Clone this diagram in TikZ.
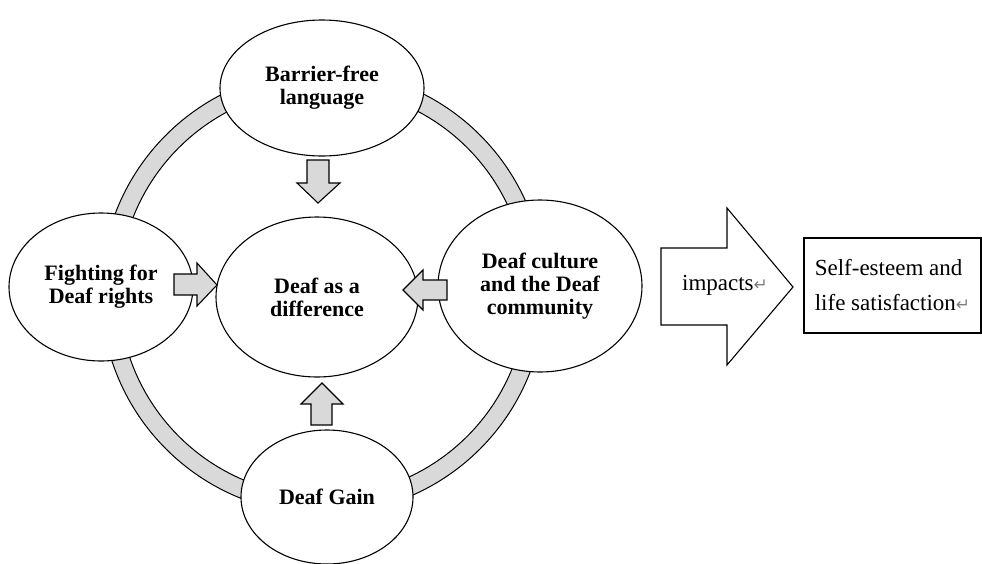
\documentclass[tikz,border=0pt]{standalone}
\usepackage{fontspec}
\setmainfont{Liberation Serif}
\newfontfamily\symfont{DejaVu Sans}
\usetikzlibrary{shapes.geometric}
\definecolor{ringgray}{HTML}{D9D9D9}
\newcommand{\parmark}{{\symfont\color{gray}\fontsize{17}{17}\selectfont ↵}}
\tikzset{
  topic/.style={draw, ellipse, fill=white, line width=1.1pt, inner sep=0pt,
    align=center, font=\bfseries\fontsize{22}{23}\selectfont},
  blockarrow/.style={draw, fill=ringgray, line width=1.1pt, line join=miter},
}
\begin{document}
\begin{tikzpicture}[x=1pt, y=-1pt]
\useasboundingbox (0,0) rectangle (982,563);
% ring
\fill[ringgray, even odd rule] (323,292) circle (222) (323,292) circle (204);
\draw[line width=1pt] (323,292) circle (222) (323,292) circle (204);

% topics
\node[topic, minimum width=204pt, minimum height=136pt] (barrier) at (322,88) {Barrier-free\\language};
\node[topic, minimum width=184pt, minimum height=148pt] (fight) at (101,287) {Fighting for\\Deaf rights};
\node[topic, minimum width=202pt, minimum height=160pt] (diff) at (317,297) {Deaf as a\\difference};
\node[topic, minimum width=204pt, minimum height=172pt] (culture) at (540,286) {Deaf culture\\and the Deaf\\community};
\node[topic, minimum width=172pt, minimum height=134pt] (gain) at (327,497) {Deaf Gain};

% arrows into the centre
\draw[blockarrow] (307,160) -- (329,160) -- (329,183) -- (340,183) -- (318,203)
  -- (297,183) -- (307,183) -- cycle;
\draw[blockarrow] (174,274) -- (197,274) -- (197,263) -- (217,285) -- (197,306)
  -- (197,295) -- (174,295) -- cycle;
\draw[blockarrow] (447,280) -- (423,280) -- (423,270) -- (403,290) -- (423,310)
  -- (423,300) -- (447,300) -- cycle;
\draw[blockarrow] (311,425) -- (311,404) -- (301,404) -- (322,383) -- (343,404)
  -- (332,404) -- (332,425) -- cycle;

% impacts
\draw[blockarrow, fill=white] (661,248) -- (727,248) -- (727,208) -- (793,287)
  -- (727,365) -- (727,325) -- (661,325) -- cycle;
\node[font=\fontsize{23}{35}\selectfont] (impacts) at (725,285) {impacts\parmark};

% result
\node[draw, line width=1.1pt, minimum width=177pt, minimum height=95pt, align=left,
  font=\fontsize{23}{35}\selectfont] (esteem) at (892.5,285.5)
  {Self-esteem and\\life satisfaction\parmark};
\end{tikzpicture}
\end{document}
